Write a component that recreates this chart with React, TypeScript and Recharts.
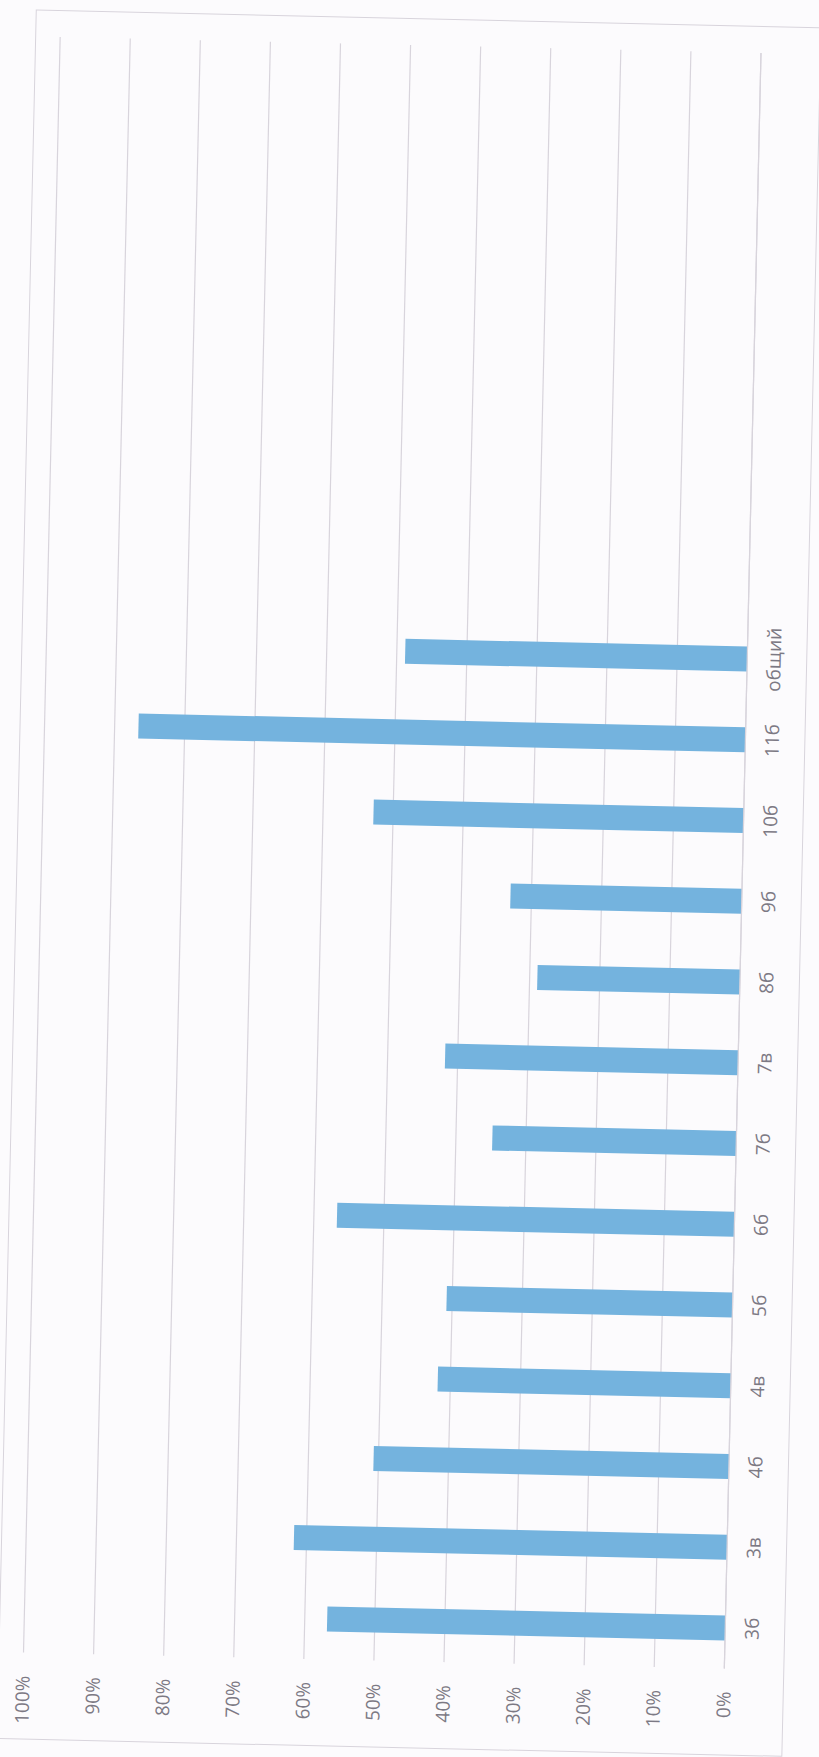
import React from "react";
import { BarChart, Bar, XAxis, YAxis, CartesianGrid } from "recharts";

// classes along the category axis
const categories = ["3б", "3в", "4б", "4в", "5б", "6б", "7б", "7в", "8б", "9б", "10б", "11б", "общий"];
// share per class, percent
const shares = [56.8, 61.8, 50.7, 41.8, 40.8, 56.7, 34.8, 41.8, 28.9, 33.0, 52.8, 86.6, 48.8];
const percentTicks = [0, 10, 20, 30, 40, 50, 60, 70, 80, 90, 100];

const data = categories.map((name, i) => ({ name, share: shares[i] }));

const GRID = "#d8d4dc";
const TEXT = "#7c7984";
const BAR = "#74b3de";
const FONT = "'Open Sans', 'Liberation Sans', sans-serif";

// the chart is drawn upright, then turned a quarter turn counter-clockwise
// (as it sits on the scanned page), plus the slight skew of the scan
const W = 1730;
const H = 786;

export default function App() {
  return (
    <div
      style={{
        position: "absolute",
        left: 0,
        top: 0,
        width: 819,
        height: 1757,
        overflow: "hidden",
        background: "#fcfbfd",
      }}
    >
      <div
        style={{
          position: "absolute",
          inset: 0,
          transform: "rotate(1.3deg)",
          transformOrigin: "400px 1150px",
        }}
      >
        <div
          style={{
            position: "absolute",
            left: 10,
            top: 1748,
            width: W,
            height: H,
            transform: "rotate(-90deg)",
            transformOrigin: "0 0",
          }}
        >
          <div
            style={{
              position: "absolute",
              left: 0,
              top: 0,
              width: W,
              height: H,
              boxSizing: "border-box",
              border: `1px solid ${GRID}`,
            }}
          />
          <BarChart
            width={W}
            height={H}
            data={data}
            margin={{ top: 25, right: 27, bottom: 0, left: 0 }}
            barSize={25}
          >
            <CartesianGrid vertical={false} stroke={GRID} strokeWidth={1.2} />
            <XAxis
              dataKey="name"
              height={60}
              interval={0}
              padding={{ left: 0, right: 566 }}
              tickLine={false}
              tickSize={0}
              tickMargin={20}
              axisLine={{ stroke: GRID, strokeWidth: 1.2 }}
              tick={{ fill: TEXT, fontSize: 19, fontFamily: FONT }}
            />
            <YAxis
              width={87}
              domain={[0, 100]}
              ticks={percentTicks}
              tickFormatter={(v) => `${v}%`}
              tickLine={false}
              axisLine={false}
              tickSize={0}
              tickMargin={23}
              tick={{ fill: TEXT, fontSize: 19, fontFamily: FONT }}
            />
            <Bar dataKey="share" fill={BAR} isAnimationActive={false} />
          </BarChart>
        </div>
      </div>
    </div>
  );
}
